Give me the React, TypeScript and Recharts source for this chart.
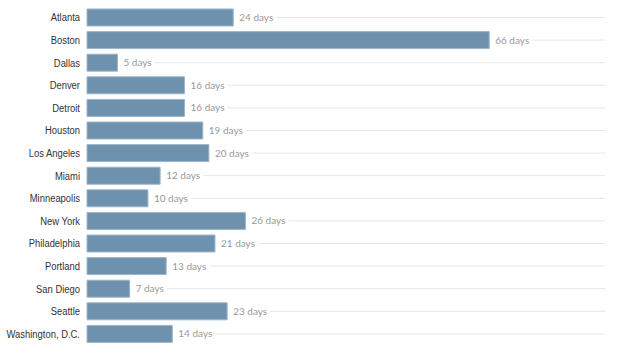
import React from "react";
import { BarChart, Bar, XAxis, YAxis, LabelList } from "recharts";

const cities = ["Atlanta","Boston","Dallas","Denver","Detroit","Houston","Los Angeles","Miami","Minneapolis","New York","Philadelphia","Portland","San Diego","Seattle","Washington, D.C."];
const days = [24,66,5,16,16,19,20,12,10,26,21,13,7,23,14];

const data = cities.map((c, i) => ({ city: c, days: days[i] }));

const W = 620;
const H = 356;
const RIGHT = 15;

const ValueLabel = (props: any) => {
  const { x, y, width, height, value } = props;
  const tx = x + width + 6;
  const cy = y + height / 2;
  const txt = `${value} days`;
  const tw = String(value).length * 5.8 + 19.5;
  const lx = tx + tw + 6;
  return (
    <g>
      <line x1={lx} x2={W - RIGHT} y1={cy} y2={cy} stroke="#e6e6e6" strokeWidth={1} />
      <text x={tx} y={cy} dy="0.35em" fill="#999" fontSize={10} fontFamily="Lato, sans-serif">{txt}</text>
    </g>
  );
};

const CityTick = (props: any) => {
  const { x, y, payload } = props;
  return (
    <g transform={`translate(${x},${y}) scale(0.82,1)`}>
      <text x={0} y={0} dy="0.35em" textAnchor="end" fill="#333" fontSize={11.5} fontFamily="'Liberation Sans', Arial, sans-serif">
        {payload.value}
      </text>
    </g>
  );
};

export default function App() {
  return (
    <div style={{ position: "absolute", left: 0, top: 0, background: "#fff" }}>
      <BarChart width={W} height={H} data={data} layout="vertical" margin={{ top: 6, right: RIGHT, bottom: 11, left: 0 }}>
        <XAxis type="number" domain={[0, 85]} hide />
        <YAxis
          type="category"
          dataKey="city"
          width={87}
          axisLine={false}
          tickLine={false}
          tickMargin={1}
          interval={0}
          tick={<CityTick />}
        />
        <Bar dataKey="days" fill="#6e92ad" stroke="#9db6c9" strokeWidth={1} barSize={17} isAnimationActive={false}>
          <LabelList dataKey="days" content={<ValueLabel />} />
        </Bar>
      </BarChart>
    </div>
  );
}
